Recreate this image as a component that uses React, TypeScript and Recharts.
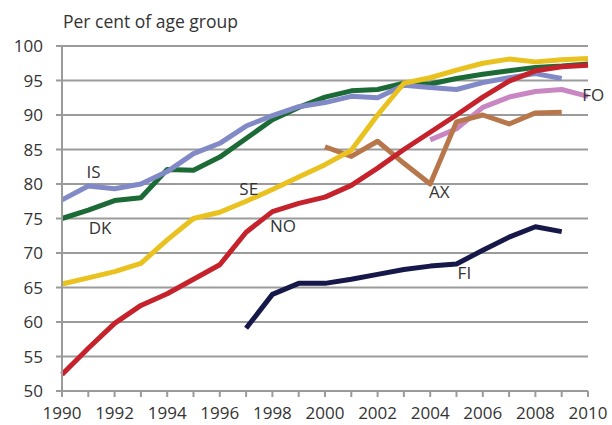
import { LineChart, Line, XAxis, YAxis, CartesianGrid, ReferenceDot } from 'recharts';

const YEARS = [1990, 1991, 1992, 1993, 1994, 1995, 1996, 1997, 1998, 1999, 2000,
  2001, 2002, 2003, 2004, 2005, 2006, 2007, 2008, 2009, 2010];

const DK = [75.0, 76.2, 77.6, 78.0, 82.1, 82.0, 83.9, 86.6, 89.3, 91.1, 92.6,
  93.5, 93.7, 94.6, 94.5, 95.3, 95.9, 96.4, 96.9, 97.1, 97.4];
const IS = [77.7, 79.7, 79.3, 80.0, 81.8, 84.4, 85.9, 88.4, 89.9, 91.2, 91.8,
  92.7, 92.5, 94.3, 94.0, 93.7, 94.7, 95.4, 96.0, 95.3, null];
const SE = [65.5, 66.4, 67.3, 68.5, 71.9, 75.0, 75.9, 77.5, 79.2, 81.0, 82.8,
  84.9, 90.0, 94.6, 95.4, 96.5, 97.5, 98.1, 97.7, 98.0, 98.2];
const NO = [52.4, 56.2, 59.8, 62.4, 64.1, 66.2, 68.3, 73.0, 76.0, 77.2, 78.1,
  79.8, 82.3, 85.0, 87.5, 90.0, 92.6, 94.9, 96.4, 97.0, 97.2];
const FO = [null, null, null, null, null, null, null, null, null, null, null,
  null, null, null, 86.4, 88.0, 91.1, 92.6, 93.4, 93.7, 92.7];
const AX = [null, null, null, null, null, null, null, null, null, null, 85.4,
  84.0, 86.2, 83.0, 80.0, 89.0, 90.0, 88.7, 90.3, 90.4, null];
const FI = [null, null, null, null, null, null, null, 59.1, 64.0, 65.6, 65.6,
  66.2, 66.9, 67.6, 68.1, 68.4, 70.4, 72.3, 73.8, 73.1, null];

const Y_TICKS = [50, 55, 60, 65, 70, 75, 80, 85, 90, 95, 100];
const X_LABELS = [1990, 1992, 1994, 1996, 1998, 2000, 2002, 2004, 2006, 2008, 2010];

const SERIES_LABELS = [
  { name: 'IS', x: 1991.2, y: 81.7 },
  { name: 'DK', x: 1991.45, y: 73.7 },
  { name: 'SE', x: 1997.1, y: 79.3 },
  { name: 'NO', x: 1998.4, y: 73.9 },
  { name: 'AX', x: 2004.35, y: 78.9 },
  { name: 'FI', x: 2005.3, y: 67.1 },
  { name: 'FO', x: 2010.2, y: 92.9 },
];

const COLORS: Record<string, string> = {
  DK: '#1c6b37',
  IS: '#8189c7',
  FO: '#c986c2',
  AX: '#b7774a',
  SE: '#e9c21f',
  NO: '#c5222b',
  FI: '#17184a',
};

const data = YEARS.map((year, i) => ({
  year,
  DK: DK[i],
  IS: IS[i],
  FO: FO[i],
  AX: AX[i],
  SE: SE[i],
  NO: NO[i],
  FI: FI[i],
}));

const FONT = '"Open Sans", sans-serif';
const TEXT = '#333333';
const GRID = '#9b9b9b';

// labels only on even years, tick marks on every year
function YearTick({ x, y, payload }: any) {
  if (!X_LABELS.includes(payload.value)) return null;
  return (
    <text x={x} y={y} dy="0.71em" textAnchor="middle" fill={TEXT} fontSize={17} fontFamily={FONT}>
      {payload.value}
    </text>
  );
}

export default function App() {
  return (
    <div style={{ position: 'absolute', left: 0, top: 0, width: 612, height: 425, background: '#fff' }}>
      <div style={{
        position: 'absolute', left: 63, top: 13, fontFamily: FONT, fontSize: 17.5,
        lineHeight: '17.5px', color: TEXT, whiteSpace: 'nowrap',
      }}>
        Per cent of age group
      </div>
      <LineChart width={612} height={425} data={data} margin={{ top: 46, right: 24, bottom: 0, left: 0 }}>
        <CartesianGrid vertical={false} stroke={GRID} strokeWidth={2} />
        <XAxis
          dataKey="year"
          type="number"
          domain={[1990, 2010]}
          ticks={YEARS}
          interval={0}
          height={34}
          tickSize={6}
          tickMargin={10}
          stroke={GRID}
          strokeWidth={2}
          tick={<YearTick />}
        />
        <YAxis
          domain={[50, 100]}
          ticks={Y_TICKS}
          interval={0}
          width={62}
          tickSize={6}
          tickMargin={13}
          stroke={GRID}
          strokeWidth={2}
          tick={{ fill: TEXT, fontSize: 17, fontFamily: FONT }}
        />
        {['DK', 'IS', 'FO', 'AX', 'SE', 'NO', 'FI'].map((key) => (
          <Line
            key={key}
            dataKey={key}
            stroke={COLORS[key]}
            strokeWidth={5}
            dot={false}
            activeDot={false}
            isAnimationActive={false}
            strokeLinejoin="round"
          />
        ))}
        {SERIES_LABELS.map((l) => (
          <ReferenceDot
            key={l.name}
            x={l.x}
            y={l.y}
            r={0}
            fill="none"
            stroke="none"
            ifOverflow="visible"
            label={{ value: l.name, position: 'center', fill: TEXT, fontSize: 17, fontFamily: FONT }}
          />
        ))}
      </LineChart>
    </div>
  );
}
